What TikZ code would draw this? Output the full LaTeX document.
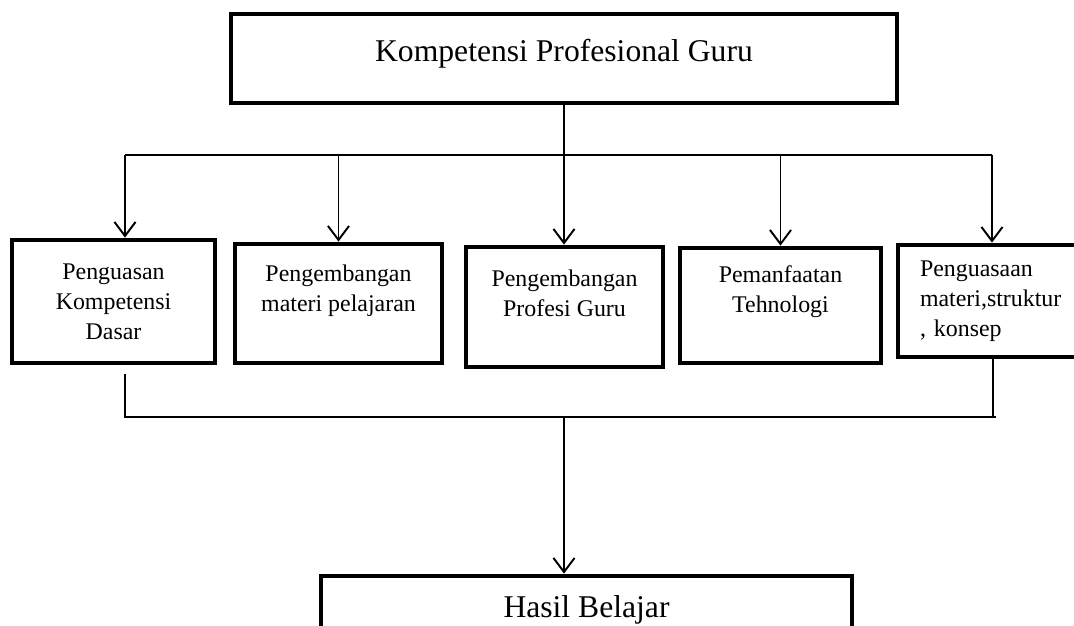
\documentclass[tikz,border=0pt]{standalone}
\usepackage{fontspec}
\setmainfont{Liberation Serif}
\usetikzlibrary{arrows.meta}

\begin{document}
\begin{tikzpicture}[
  box/.style={draw, line width=2.7pt, align=center, inner sep=0pt, font=\fontsize{13.6}{17}\selectfont},
  bigbox/.style={draw, line width=2.7pt, inner sep=0pt, font=\fontsize{18}{22}\selectfont},
  lift/.style={text depth=#1},
  link/.style={line width=1pt},
  arr/.style={line width=1.1pt, -{Straight Barb[length=8pt,width=12pt]}}
]
\useasboundingbox (0,0) rectangle (21.48,12.5);

\node [bigbox, minimum width=13.32cm, minimum height=1.78cm, lift=9pt] (kpg) at (11.28,11.33) {Kompetensi Profesional Guru};

\node [box, minimum width=4.06cm, minimum height=2.46cm] (kd) at (2.27,6.47) {Penguasan\\Kompetensi\\Dasar};
\node [box, minimum width=4.14cm, minimum height=2.38cm, lift=17pt] (mp) at (6.77,6.43) {Pengembangan\\materi pelajaran};
\node [box, minimum width=3.94cm, minimum height=2.40cm, lift=16pt] (pg) at (11.29,6.36) {Pengembangan\\Profesi Guru};
\node [box, minimum width=4.02cm, minimum height=2.30cm, lift=18.5pt] (pt) at (15.61,6.39) {Pemanfaatan\\Tehnologi};
\node [box, align=left, text width=3.44cm, minimum width=4.32cm, minimum height=2.24cm] (msk) at (20.12,6.48) {Penguasaan\\materi,struktur\\, konsep};

\node [bigbox, minimum width=10.62cm, minimum height=1.36cm] (hb) at (11.73,0.30) {Hasil Belajar};

% cabang atas
\coordinate (busL) at (2.50,9.40); \coordinate (busR) at (19.84,9.40);
\draw [link] (busL) -- (busR);
\draw [arr] (kpg.south) -- (kpg.south |- pg.north);
\draw [arr] (busL) -- (busL |- kd.north);
\draw [arr] (mp.north |- busL) -- (mp.north);
\draw [arr] (pt.north |- busL) -- (pt.north);
\draw [arr] (busR) -- (busR |- msk.north);

% cabang bawah
\coordinate (jL) at (2.50,4.16); \coordinate (jR) at (19.86,4.16);
\draw [link] ([yshift=-0.18cm]kd.south -| jL) -- (jL) -- ([xshift=0.06cm]jR);
\draw [link] (msk.south -| jR) -- (jR);
\draw [arr] (kpg.south |- jL) -- (kpg.south |- hb.north);
\end{tikzpicture}
\end{document}
